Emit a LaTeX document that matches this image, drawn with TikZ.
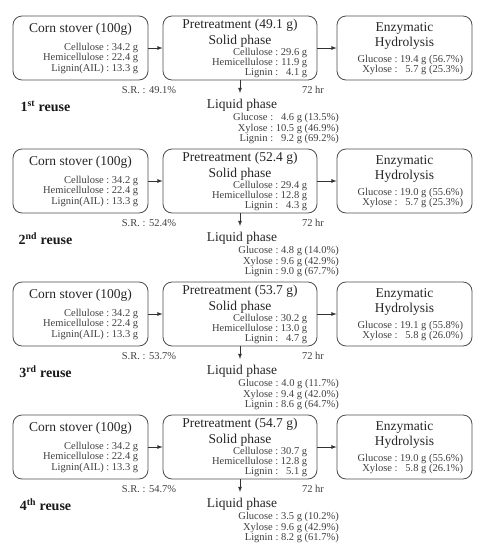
\documentclass[tikz,border=0pt]{standalone}
\usepackage{fontspec}
\setmainfont{Liberation Serif}
\usetikzlibrary{arrows,positioning}
\tikzset{
  box/.style={draw=black!70, rounded corners=9pt, minimum height=64pt, inner sep=0pt, line width=0.8pt},
  ttl/.style={font=\fontsize{13.5}{15}\selectfont, text=black!85, inner sep=0pt, align=center},
  dat/.style={font=\fontsize{10.5}{10}\selectfont, text=black!75, inner sep=0pt},
  rus/.style={font=\fontsize{14}{15}\selectfont\bfseries, text=black!90, inner sep=0pt},
  lnk/.style={-latex, line width=0.8pt, black!80}
}
\newcommand{\vals}[1]{\begin{tabular}{@{}r@{~:~}r@{}}#1\end{tabular}}
\begin{document}
\begin{tikzpicture}[x=1pt,y=-1pt]
\useasboundingbox (0,0) rectangle (487,550);
\foreach \r/\sfx/\sr/\sc/\sh/\sl/\eg/\ex/\lg/\lx/\ll [evaluate=\r as \yc using 48+133*(\r-1)] in {
  1/st/49.1/29.6/11.9/4.1/{19.4 g (56.7\%)}/{5.7 g (25.3\%)}/{4.6 g (13.5\%)}/{10.5 g (46.9\%)}/{9.2 g (69.2\%)},
  2/nd/52.4/29.4/12.8/4.3/{19.0 g (55.6\%)}/{5.7 g (25.3\%)}/{4.8 g (14.0\%)}/{9.6 g (42.9\%)}/{9.0 g (67.7\%)},
  3/rd/53.7/30.2/13.0/4.7/{19.1 g (55.8\%)}/{5.8 g (26.0\%)}/{4.0 g (11.7\%)}/{9.4 g (42.0\%)}/{8.6 g (64.7\%)},
  4/th/54.7/30.7/12.8/5.1/{19.0 g (55.6\%)}/{5.8 g (26.1\%)}/{3.5 g (10.2\%)}/{9.6 g (42.9\%)}/{8.2 g (61.7\%)}}
{
  \node[box, minimum width=135pt] (cs\r) at (80.5,\yc) {};
  \node[box, minimum width=154pt] (pt\r) at (240,\yc) {};
  \node[box, minimum width=135pt] (eh\r) at (404.5,\yc) {};
  \node[ttl] (cst\r) at ([yshift=-14pt]cs\r.north) {Corn stover (100g)};
  \node[dat, anchor=east] (csd\r) at ([xshift=-10pt,yshift=-43pt]cs\r.north east)
    {\vals{Cellulose & 34.2 g\\ Hemicellulose & 22.4 g\\ Lignin(AIL) & 13.3 g}};
  \node[ttl] (ptt\r) at ([yshift=-10pt]pt\r.north) {Pretreatment (\sr\ g)};
  \node[ttl] (pts\r) at ([yshift=-26pt]pt\r.north) {Solid phase};
  \node[dat, anchor=east] (ptd\r) at ([xshift=-10pt,yshift=-48pt]pt\r.north east)
    {\vals{Cellulose & \sc\ g\\ Hemicellulose & \sh\ g\\ Lignin & \sl\ g}};
  \node[ttl] (eht\r) at ([yshift=-20pt]eh\r.north) {Enzymatic\\Hydrolysis};
  \node[dat, anchor=east] (ehd\r) at ([xshift=-9pt,yshift=-50pt]eh\r.north east)
    {\vals{Glucose & \eg\\ Xylose & \ex}};
  \node[dat] (sr\r) at (149,\yc+42) {S.R. : \sr\%};
  \node[dat] (hr\r) at (313,\yc+42) {72 hr};
  \node[rus] (rn\r) at (45.5,\yc+58) {\r\textsuperscript{\sfx} reuse};
  \coordinate (lp\r) at (240,\yc+45);
  \node[ttl] (lpt\r) at (242,\yc+57.5) {Liquid phase};
  \node[dat, anchor=east] (lpd\r) at (339,\yc+81)
    {\vals{Glucose & \lg\\ Xylose & \lx\\ Lignin & \ll}};
  \draw[lnk] (cs\r) -- (pt\r);
  \draw[lnk] (pt\r) -- (eh\r);
  \draw[lnk] (pt\r) -- (lp\r);
}
\end{tikzpicture}
\end{document}
